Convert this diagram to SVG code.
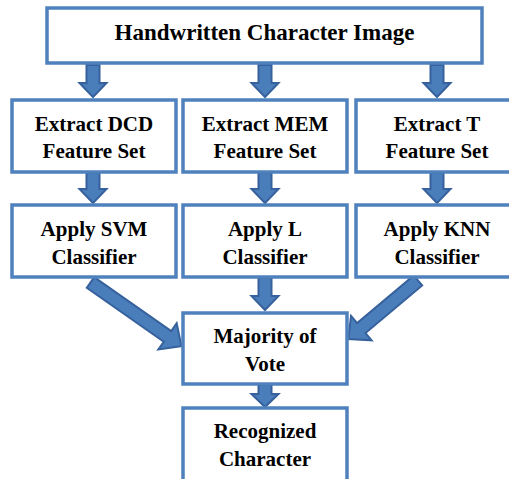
<svg xmlns="http://www.w3.org/2000/svg" width="509" height="479" viewBox="0 0 509 479">
<style>
.box{fill:#fff;stroke:#4f81bd;stroke-width:3.5}
.arr{fill:#4a7ebb;stroke:#36619c;stroke-width:2;stroke-linejoin:miter}
text{font-family:'Liberation Serif','Times New Roman',Times,serif;font-weight:700;fill:#000;text-anchor:middle;font-size:21px}
.t{font-size:23px}
</style>
<rect width="509" height="479" fill="#fff"/>
<g id="connectors">
<path class="arr" d="M86.5,65 H99.5 V83 H106.5 L93,97 L79.5,83 H86.5 Z"/>
<path class="arr" d="M258.5,65 H271.5 V83 H278.5 L265,97 L251.5,83 H258.5 Z"/>
<path class="arr" d="M430.5,65 H443.5 V83 H450.5 L437,97 L423.5,83 H430.5 Z"/>
<path class="arr" d="M86.5,173 H99.5 V189 H106.5 L93,203 L79.5,189 H86.5 Z"/>
<path class="arr" d="M258.5,173 H271.5 V189 H278.5 L265,203 L251.5,189 H258.5 Z"/>
<path class="arr" d="M430.5,173 H443.5 V189 H450.5 L437,203 L423.5,189 H430.5 Z"/>
<path class="arr" d="M258.5,278 H271.5 V296 H278.5 L265,310 L251.5,296 H258.5 Z"/>
<path class="arr" d="M258.5,385 H271.5 V394 H278.5 L265,407 L251.5,394 H258.5 Z"/>
<g transform="translate(90.5,282.5) rotate(-55)"><path class="arr" d="M-6.5,0 H6.5 V94 H16 L0,111 L-16,94 H-6.5 Z"/></g>
<g transform="translate(418,280.5) rotate(50)"><path class="arr" d="M-6.5,0 H6.5 V74 H16 L0,91 L-16,74 H-6.5 Z"/></g>
</g>
<g id="n-input"><rect class="box" x="47" y="8" width="435" height="55"/><text class="t" x="264.5" y="40">Handwritten Character Image</text></g>
<g id="n-dcd"><rect class="box" x="12" y="100" width="164" height="72"/><text x="94" y="131">Extract DCD</text><text x="94" y="158">Feature Set</text></g>
<g id="n-mem"><rect class="box" x="183" y="100" width="164" height="72"/><text x="265" y="131">Extract MEM</text><text x="265" y="158">Feature Set</text></g>
<g id="n-t"><rect class="box" x="356" y="100" width="162" height="72"/><text x="437" y="131">Extract T</text><text x="437" y="158">Feature Set</text></g>
<g id="n-svm"><rect class="box" x="12" y="205" width="164" height="72"/><text x="94" y="236">Apply SVM</text><text x="94" y="264">Classifier</text></g>
<g id="n-l"><rect class="box" x="183" y="205" width="164" height="72"/><text x="265" y="236">Apply L</text><text x="265" y="264">Classifier</text></g>
<g id="n-knn"><rect class="box" x="356" y="205" width="162" height="72"/><text x="437" y="236">Apply KNN</text><text x="437" y="264">Classifier</text></g>
<g id="n-vote"><rect class="box" x="183" y="313" width="164" height="71"/><text x="265" y="343">Majority of</text><text x="265" y="371">Vote</text></g>
<g id="n-out"><rect class="box" x="183" y="408" width="164" height="82"/><text x="265" y="438">Recognized</text><text x="265" y="466">Character</text></g>
</svg>
